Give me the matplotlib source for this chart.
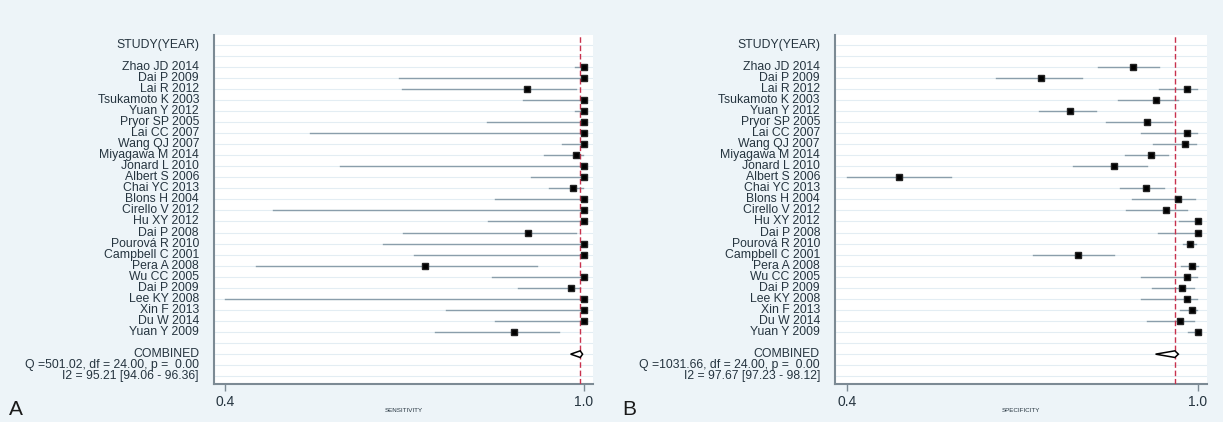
import matplotlib
matplotlib.use("Agg")
import matplotlib.pyplot as plt
from matplotlib.patches import Polygon
import matplotlib.transforms as mtransforms

plt.rcParams['font.family'] = ['Liberation Sans', 'DejaVu Sans']

studies = ["Zhao JD 2014", "Dai P 2009", "Lai R 2012", "Tsukamoto K 2003", "Yuan Y 2012",
           "Pryor SP 2005", "Lai CC 2007", "Wang QJ 2007", "Miyagawa M 2014", "Jonard L 2010",
           "Albert S 2006", "Chai YC 2013", "Blons H 2004", "Cirello V 2012", "Hu XY 2012",
           "Dai P 2008", "Pourová R 2010", "Campbell C 2001", "Pera A 2008", "Wu CC 2005",
           "Dai P 2009", "Lee KY 2008", "Xin F 2013", "Du W 2014", "Yuan Y 2009"]

sens = [1.0, 1.0, 0.905, 1.0, 1.0, 1.0, 1.0, 1.0, 0.987, 1.0, 1.0, 0.982, 1.0, 1.0, 1.0,
        0.906, 1.0, 1.0, 0.735, 1.0, 0.978, 1.0, 1.0, 1.0, 0.883]
sens_lo = [0.985, 0.691, 0.696, 0.898, 0.985, 0.838, 0.542, 0.964, 0.934, 0.592, 0.911, 0.941,
           0.852, 0.480, 0.839, 0.697, 0.665, 0.716, 0.452, 0.846, 0.890, 0.400, 0.770, 0.852, 0.751]
sens_hi = [1.0, 1.0, 0.987, 1.0, 1.0, 1.0, 1.0, 1.0, 0.998, 1.0, 1.0, 0.998, 1.0, 1.0, 1.0,
           0.987, 1.0, 1.0, 0.921, 1.0, 0.994, 1.0, 1.0, 1.0, 0.959]
sens_comb = (0.994, 0.978, 0.998)
sens_stats = ["Q =501.02, df = 24.00, p =  0.00", "I2 = 95.21 [94.06 - 96.36]"]

spec = [0.889, 0.732, 0.981, 0.929, 0.782, 0.913, 0.982, 0.979, 0.920, 0.857, 0.489, 0.911,
        0.967, 0.945, 1.0, 1.0, 0.987, 0.795, 0.991, 0.982, 0.973, 0.982, 0.991, 0.970, 1.0]
spec_lo = [0.830, 0.656, 0.934, 0.864, 0.729, 0.844, 0.903, 0.924, 0.876, 0.786, 0.401, 0.867,
           0.888, 0.877, 0.968, 0.932, 0.975, 0.719, 0.971, 0.903, 0.922, 0.903, 0.969, 0.914, 0.983]
spec_hi = [0.933, 0.802, 0.998, 0.967, 0.827, 0.956, 0.998, 0.997, 0.950, 0.913, 0.579, 0.942,
           0.995, 0.982, 1.0, 1.0, 0.997, 0.857, 1.0, 0.998, 0.994, 0.998, 0.998, 0.993, 1.0]
spec_comb = (0.961, 0.928, 0.967)
spec_stats = ["Q =1031.66, df = 24.00, p =  0.00", "I2 = 97.67 [97.23 - 98.12]"]

xticks = [0.4, 1.0]
xticklabels = ["0.4", "1.0"]

BG = "#edf4f8"
TXT = "#25343f"
CI = "#8a9eab"
SPINE = "#7c8a94"

fig = plt.figure(figsize=(12.23, 4.22), dpi=100, facecolor=BG)


def panel(rect, vals, lo, hi, comb, stats, xlabel, xlim, letter, letter_x):
    ax = fig.add_axes(rect)
    ax.set_facecolor("white")
    n = len(vals)
    rows = list(range(n))
    comb_row = n + 1
    for r in range(-2, n + 4):
        ax.axhline(r, color="#e3edf3", lw=0.8, zorder=0)
    ax.axvline(comb[0], color="#c8324e", lw=1.0, ls=(0, (4, 2)), zorder=3)
    for r, v, l, h in zip(rows, vals, lo, hi):
        ax.plot([l, h], [r, r], color=CI, lw=1.0, zorder=2)
    ax.plot(vals, rows, ls="none", marker="s", ms=5.0, color="black",
            markeredgecolor="#222222", zorder=4)
    e, l, h = comb
    dia = Polygon([[l, comb_row], [e, comb_row - 0.3], [h, comb_row], [e, comb_row + 0.3]],
                  closed=True, facecolor="white", edgecolor="black", lw=1.1, zorder=5)
    ax.add_patch(dia)
    ax.set_xlim(*xlim)
    ax.set_ylim(28.7, -2.87)
    ax.set_yticks([])
    ax.set_xticks(xticks)
    ax.set_xticklabels(xticklabels, fontsize=10, color=TXT)
    ax.tick_params(axis="x", direction="out", length=5, width=1, color=SPINE, pad=3)
    for s in ["top", "right"]:
        ax.spines[s].set_visible(False)
    for s in ["left", "bottom"]:
        ax.spines[s].set_color(SPINE)
        ax.spines[s].set_linewidth(1.5)
    pos = ax.get_position()
    fig.text((pos.x0 + pos.x1) / 2, 1 - 411 / 422, xlabel, fontsize=4.5, color=TXT,
             ha="center", va="center")
    tr = mtransforms.blended_transform_factory(ax.transAxes, ax.transData)
    off = mtransforms.ScaledTranslation(-15 / 100, 0, fig.dpi_scale_trans)
    kw = dict(transform=tr + off, ha="right", va="center", fontsize=8.8, color=TXT)
    ax.text(0, -2, "STUDY(YEAR)", **kw)
    for r, s in zip(rows, studies):
        ax.text(0, r, s, **kw)
    ax.text(0, comb_row, "COMBINED", **kw)
    ax.text(0, comb_row + 1, stats[0], **kw)
    ax.text(0, comb_row + 2, stats[1], **kw)
    fig.text(letter_x, 3 / 422, letter, fontsize=15, color="#1a1a1a", ha="left", va="bottom")
    return ax


panel([214 / 1223, 1 - 384 / 422, 379 / 1223, 349 / 422], sens, sens_lo, sens_hi, sens_comb,
      sens_stats, "SENSITIVITY", (0.3816, 1.0154), "A", 9 / 1223)
panel([835 / 1223, 1 - 384 / 422, 372 / 1223, 349 / 422], spec, spec_lo, spec_hi, spec_comb,
      spec_stats, "SPECIFICITY", (0.380, 1.0159), "B", 622 / 1223)

fig.savefig("out.png", dpi=100, facecolor=BG)
